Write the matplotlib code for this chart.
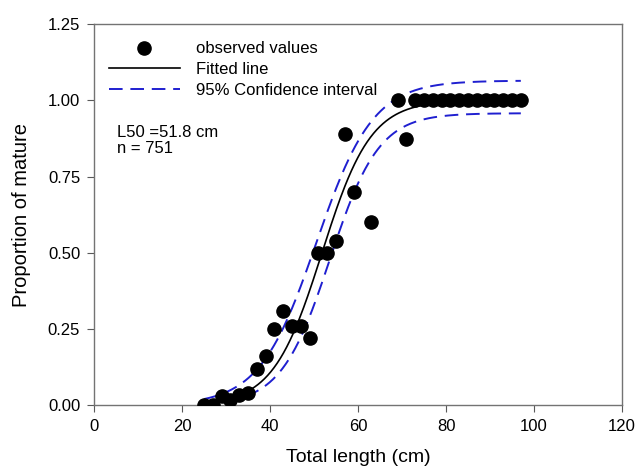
import numpy as np
import matplotlib
matplotlib.use('Agg')
import matplotlib.pyplot as plt

plt.rcParams['font.family'] = ['Liberation Sans', 'DejaVu Sans']

# observed proportion mature by length class
length_cm = [25, 27, 29, 31, 33, 35, 37, 39, 41, 43, 45, 47, 49, 51, 53, 55, 57, 59, 63,
             69, 71, 73, 75, 77, 79, 81, 83, 85, 87, 89, 91, 93, 95, 97]
prop_mature = [0.00, 0.00, 0.03, 0.016, 0.035, 0.04, 0.12, 0.16, 0.25, 0.31, 0.26, 0.26, 0.22,
               0.50, 0.50, 0.54, 0.89, 0.70, 0.60, 1.00, 0.875, 1.00, 1.00, 1.00, 1.00, 1.00,
               1.00, 1.00, 1.00, 1.00, 1.00, 1.00, 1.00, 1.00]

# logistic fit and confidence band parameters (asymptote, slope, midpoint)
fit_params = (1.0, 0.18, 51.8)
upper_params = (1.065, 0.155, 50.5)
lower_params = (0.958, 0.18, 53.6)
x_range = (25, 97)

x_ticks = [0, 20, 40, 60, 80, 100, 120]
y_ticks = [0.00, 0.25, 0.50, 0.75, 1.00, 1.25]


def logistic(x, a, r, c):
    return a / (1 + np.exp(-r * (x - c)))


fig = plt.figure(figsize=(6.36, 4.75), dpi=100)
ax = fig.add_axes([0.148, 0.147, 0.83, 0.802])

xs = np.linspace(x_range[0], x_range[1], 300)
ax.plot(length_cm, prop_mature, 'o', color='black', markersize=9.5, label='observed values', zorder=3)
ax.plot(xs, logistic(xs, *fit_params), color='black', lw=1.2, label='Fitted line')
ax.plot(xs, logistic(xs, *upper_params), color='#1f1fd0', lw=1.4, dashes=(7, 4),
        label='95% Confidence interval')
ax.plot(xs, logistic(xs, *lower_params), color='#1f1fd0', lw=1.4, dashes=(7, 4))

ax.set_xlim(0, 120)
ax.set_ylim(0, 1.25)
ax.set_xticks(x_ticks)
ax.set_yticks(y_ticks)
ax.set_yticklabels([f'{v:.2f}' for v in y_ticks])
ax.tick_params(labelsize=12, direction='out', length=5, color='0.35', pad=5)
for s in ax.spines.values():
    s.set_color('0.45')
    s.set_linewidth(1.0)

ax.set_xlabel('Total length (cm)', fontsize=14, labelpad=11)
ax.set_ylabel('Proportion of mature', fontsize=14.5, labelpad=12)

ax.legend(loc='upper left', bbox_to_anchor=(0.028, 0.955), frameon=False, fontsize=12,
          handlelength=4.25, handletextpad=1.0, labelspacing=0.35, borderaxespad=0,
          borderpad=0)

ax.text(0.044, 0.735, 'L50 =51.8 cm\nn = 751', transform=ax.transAxes, fontsize=12,
        va='top', linespacing=1.1)

fig.savefig('out.png', dpi=100)
